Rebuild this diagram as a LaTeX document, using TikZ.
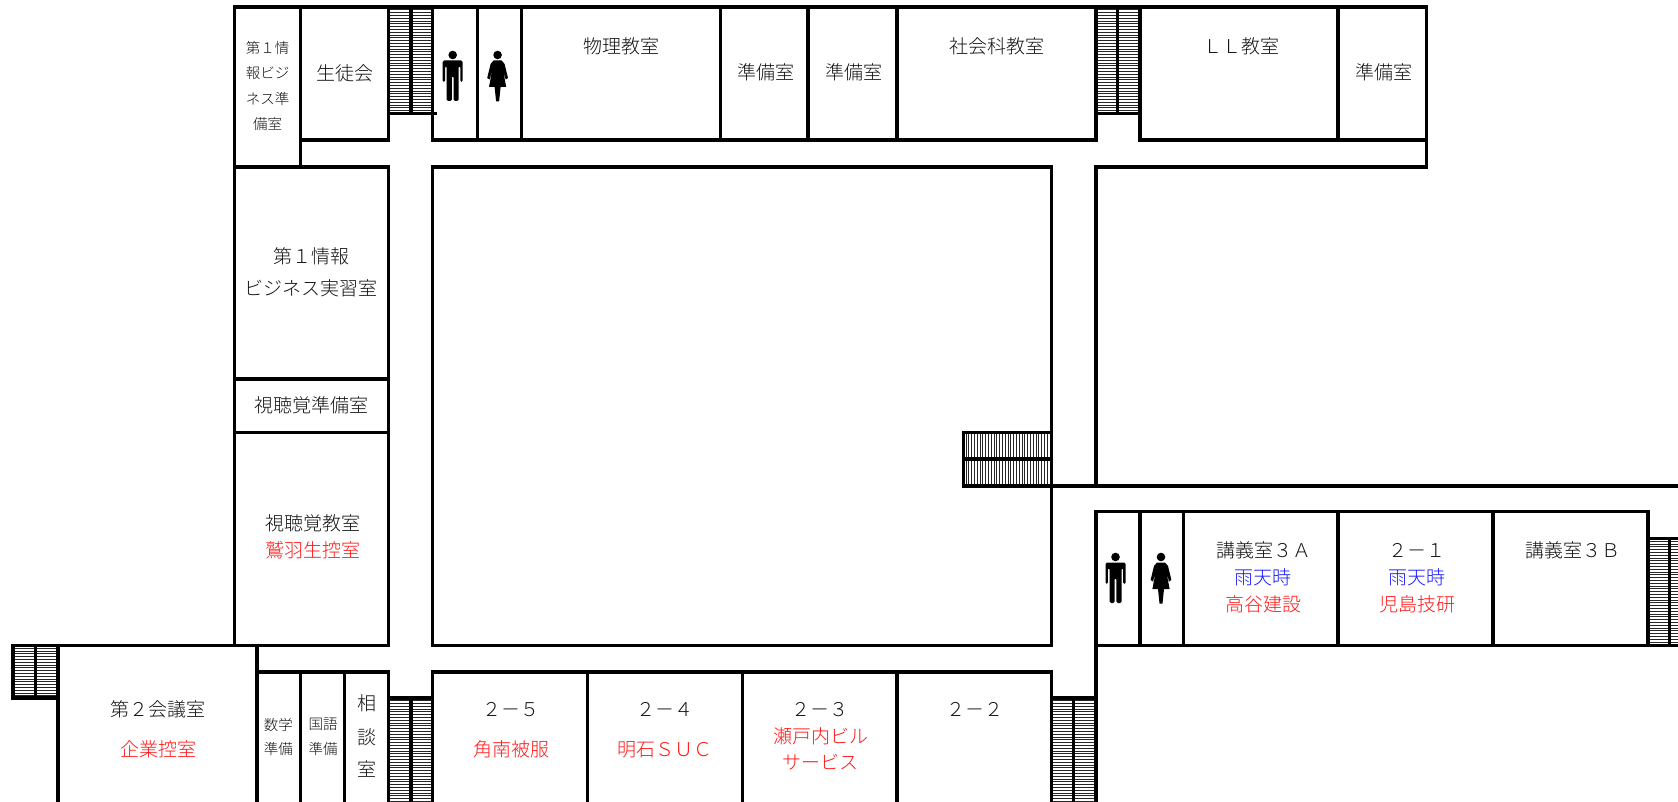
\documentclass[tikz,border=0pt]{standalone}
\usepackage{fontspec}
\setmainfont{Noto Sans CJK JP}[UprightFont=* Light]
\definecolor{txt}{HTML}{141414}
\definecolor{redt}{HTML}{FF1818}
\definecolor{bluet}{HTML}{1818FF}
\tikzset{
  wall/.style={line width=3.4pt,line cap=rect,black},
  tread/.style={line width=0.8pt,black!85},
  big/.style={font=\fontsize{19}{21}\selectfont,text=txt,inner sep=0pt,yshift=-0.3pt},
  small/.style={font=\fontsize{14.5}{16}\selectfont,text=txt,inner sep=0pt},
  red/.style={big,text=redt},
  blue/.style={big,text=bluet},
  man/.pic={
    \fill (0,-21) circle (4.3);
    \fill[rounded corners=1.5pt] (-10,-15.5) -- (10,-15.5) -- (10,6) -- (7.6,6) -- (7.6,-10) -- (6,-10) -- (6,25) -- (0.8,25) -- (0.8,0) -- (-0.8,0) -- (-0.8,25) -- (-6,25) -- (-6,-10) -- (-7.6,-10) -- (-7.6,6) -- (-10,6) -- cycle;
  },
  woman/.pic={
    \fill (0,-21) circle (4.3);
    \fill (-4,-15.5) -- (4,-15.5) -- (7,-12) -- (10.4,2) -- (8,3.5) -- (5.4,-6) -- (8.6,11) -- (3,11) -- (1.5,25.5) -- (-1.5,25.5) -- (-3,11) -- (-8.6,11) -- (-5.4,-6) -- (-8,3.5) -- (-10.4,2) -- (-7,-12) -- cycle;
  }
}
\begin{document}
\begin{tikzpicture}[x=1pt,y=-1pt]
\path[use as bounding box,fill=white] (0,0) rectangle (1678,802);
\clip (0,0) rectangle (1678,802);
% treads, horizontal
\foreach \xa/\xb/\ya/\yb in {388.5/432.4/7/113.5,1095.9/1139.8/7/113.5,12.8/57.8/645.3/697.8,388.5/432.4/697.8/802,1052/1095.9/697.8/802,1648/1678/538.3/645.3}{
  \pgfmathsetmacro{\ys}{\ya+2.8}
  \pgfmathsetmacro{\yn}{\ya+5.6}
  \foreach \y in {\ys,\yn,...,\yb}{\draw[tread] (\xa,\y) -- (\xb,\y);}
}
% treads, vertical
\foreach \x in {965.9,968.7,...,1052}{\draw[tread] (\x,432.4) -- (\x,486);}
% outer and room walls
\draw[wall] (432.4,7) -- (234.4,7) -- (234.4,645.3);
\draw[wall] (432.4,7) -- (1426.6,7) -- (1426.6,167) -- (1095.9,167) -- (1095.9,486);
\draw[wall] (300.7,7) -- (300.7,167);
\draw[wall] (234.4,167) -- (388.5,167) -- (388.5,645.3);
\draw[wall] (300.7,140.2) -- (388.5,140.2) -- (388.5,7);
\draw[wall] (411,7) -- (411,113.5);
\draw[wall] (388.5,113.5) -- (435,113.5);
\draw[wall] (432.4,7) -- (432.4,140.2) -- (1095.9,140.2) -- (1095.9,7);
\foreach \x in {477.3,521.2,720.2,808,896.8}{\draw[wall] (\x,7) -- (\x,140.2);}
\draw[wall] (1117.3,7) -- (1117.3,113.5);
\draw[wall] (1095.9,113.5) -- (1139.8,113.5);
\draw[wall] (1139.8,7) -- (1139.8,140.2) -- (1426.6,140.2);
\draw[wall] (1337.8,7) -- (1337.8,140.2);
\draw[wall] (234.4,379) -- (388.5,379);
\draw[wall] (234.4,432.4) -- (388.5,432.4);
% courtyard
\draw[wall] (432.4,167) rectangle (1051.5,645.3);
% courtyard stair
\draw[wall] (963.2,432.4) -- (1051.5,432.4);
\draw[wall] (963.2,459) -- (1051.5,459);
\draw[wall] (1051.5,486) -- (963.2,486) -- (963.2,432.4);
\draw[wall] (1051.5,486) -- (1678,486);
% bottom-left
\draw[wall] (57.8,645.3) -- (388.5,645.3);
\draw[wall] (57.8,645.3) -- (12.8,645.3) -- (12.8,697.8) -- (57.8,697.8);
\draw[wall] (35.3,645.3) -- (35.3,697.8);
\draw[wall] (57.8,645.3) -- (57.8,802);
\draw[wall] (256.9,645.3) -- (256.9,802);
\draw[wall] (256.9,672) -- (388.5,672) -- (388.5,802);
\draw[wall] (300.7,672) -- (300.7,802);
\draw[wall] (344.6,672) -- (344.6,802);
\draw[wall] (388.5,697.8) -- (432.4,697.8);
\draw[wall] (411,697.8) -- (411,802);
\draw[wall] (432.4,802) -- (432.4,672) -- (1051.5,672) -- (1051.5,802);
\foreach \x in {587.5,742.7,896.8}{\draw[wall] (\x,672) -- (\x,802);}
\draw[wall] (1051.5,697.8) -- (1095.9,697.8);
\draw[wall] (1073.4,697.8) -- (1073.4,802);
% right wing
\draw[wall] (1095.9,802) -- (1095.9,511.6) -- (1648,511.6) -- (1648,645.3);
\draw[wall] (1095.9,645.3) -- (1678,645.3);
\foreach \x in {1139.8,1183.6,1337.8,1492.9}{\draw[wall] (\x,511.6) -- (\x,645.3);}
\draw[wall] (1648,538.3) -- (1678,538.3);
\draw[wall] (1669.5,538.3) -- (1669.5,645.3);
% toilets
\pic at (452.7,76) {man};
\pic at (497.6,76) {woman};
\pic at (1115.5,578) {man};
\pic at (1161,578) {woman};
% labels
\node[small] (a1) at (267.5,48) {第１情};
\node[small] (a2) at (267.5,73) {報ビジ};
\node[small] (a3) at (267.5,98.5) {ネス準};
\node[small] (a4) at (267.5,124) {備室};
\node[big] (b1) at (344.6,72.8) {生徒会};
\node[big] (b2) at (621.8,46) {物理教室};
\node[big] (b3) at (765.5,71.7) {準備室};
\node[big] (b4) at (853.5,71.7) {準備室};
\node[big] (b5) at (996.5,46) {社会科教室};
\node[big] (b6) at (1241,46) {ＬＬ教室};
\node[big] (b7) at (1383.7,71.7) {準備室};
\node[big] (c1) at (311.4,255.8) {第１情報};
\node[big] (c2) at (311.4,287.9) {ビジネス実習室};
\node[big] (c3) at (311.4,404.5) {視聴覚準備室};
\node[big] (c4) at (312.5,523.3) {視聴覚教室};
\node[red] (c5) at (312.5,550) {鷲羽生控室};
\node[big] (d1) at (158,709.5) {第２会議室};
\node[red] (d2) at (158,749) {企業控室};
\node[small] (d3) at (278.3,724.5) {数学};
\node[small] (d4) at (278.3,749) {準備};
\node[small] (d5) at (323,724.5) {国語};
\node[small] (d6) at (323,749) {準備};
\node[big] (d7) at (367,703) {相};
\node[big] (d8) at (367,737.4) {談};
\node[big] (d9) at (367,768.4) {室};
\node[big] (e1) at (511,709.5) {２－５};
\node[red] (e2) at (511,749) {角南被服};
\node[big] (e3) at (665,709.5) {２－４};
\node[red] (e4) at (665,749) {明石ＳＵＣ};
\node[big] (e5) at (820,709.5) {２－３};
\node[red] (e6) at (820.5,736.3) {瀬戸内ビル};
\node[red] (e7) at (820.5,762) {サービス};
\node[big] (e8) at (975,709.5) {２－２};
\node[big] (f1) at (1263.5,550) {講義室３Ａ};
\node[blue] (f2) at (1263,576.8) {雨天時};
\node[red] (f3) at (1263,603.6) {高谷建設};
\node[big] (f4) at (1417,550) {２－１};
\node[blue] (f5) at (1417,576.8) {雨天時};
\node[red] (f6) at (1417,603.6) {児島技研};
\node[big] (f7) at (1572.5,550) {講義室３Ｂ};
\end{tikzpicture}
\end{document}
